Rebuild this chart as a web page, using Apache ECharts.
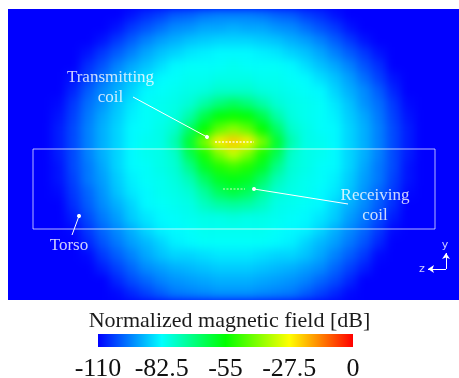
<!DOCTYPE html>
<html><head><meta charset="utf-8">
<script src="https://cdn.jsdelivr.net/npm/echarts@6/dist/echarts.min.js"></script>
<style>
html,body{margin:0;padding:0;background:#fff;width:459px;height:378px;overflow:hidden;}
#wrap{position:absolute;left:8px;top:9px;width:451px;height:291px;overflow:hidden;background:#0000ff;}
#heat{position:absolute;left:0;top:0;width:451px;height:291px;filter:blur(5px);}
#over{position:absolute;left:0;top:0;width:459px;height:378px;}
</style></head><body>
<div id="wrap"><div id="heat"></div></div>
<div id="over"></div>
<script>
// Normalized magnetic field [dB], 23 rows (top to bottom) x 31 columns (left to right)
const fieldRows = [
[-110,-110,-110,-110,-110,-110,-110,-110,-108,-105,-103,-100,-99,-97,-96,-96,-96,-97,-99,-100,-103,-105,-108,-110,-110,-110,-110,-110,-110,-110,-110],
[-110,-110,-110,-110,-110,-110,-110,-108,-104,-101,-98,-95,-94,-92,-92,-91,-92,-92,-94,-95,-98,-101,-104,-108,-110,-110,-110,-110,-110,-110,-110],
[-110,-110,-110,-110,-110,-110,-108,-104,-100,-96,-93,-91,-89,-88,-87,-87,-87,-88,-89,-91,-93,-96,-100,-104,-108,-110,-110,-110,-110,-110,-110],
[-110,-110,-110,-110,-110,-108,-104,-100,-96,-92,-89,-87,-85,-84,-83,-83,-83,-84,-85,-87,-89,-92,-96,-100,-104,-108,-110,-110,-110,-110,-110],
[-110,-110,-110,-110,-110,-105,-101,-96,-92,-89,-86,-83,-82,-82,-82,-81,-82,-82,-82,-83,-86,-89,-92,-96,-101,-105,-110,-110,-110,-110,-110],
[-110,-110,-110,-110,-108,-103,-98,-93,-89,-86,-83,-82,-81,-81,-80,-80,-80,-81,-81,-82,-83,-86,-89,-93,-98,-103,-108,-110,-110,-110,-110],
[-110,-110,-110,-110,-106,-100,-95,-91,-87,-83,-82,-81,-80,-79,-77,-77,-77,-79,-80,-81,-82,-83,-87,-91,-95,-100,-106,-110,-110,-110,-110],
[-110,-110,-110,-109,-104,-98,-94,-89,-85,-82,-81,-80,-78,-73,-68,-65,-68,-73,-78,-80,-81,-82,-85,-89,-94,-98,-104,-109,-110,-110,-110],
[-110,-110,-110,-108,-103,-97,-92,-88,-84,-82,-81,-79,-73,-63,-56,-54,-56,-63,-73,-79,-81,-82,-84,-88,-92,-97,-103,-108,-110,-110,-110],
[-110,-110,-110,-107,-102,-96,-91,-87,-83,-82,-80,-77,-66,-55,-45,-40,-45,-55,-66,-77,-80,-82,-83,-87,-91,-96,-102,-107,-110,-110,-110],
[-110,-110,-110,-107,-102,-96,-91,-87,-83,-81,-80,-74,-60,-42,-26,-22,-26,-42,-60,-74,-80,-81,-83,-87,-91,-96,-102,-107,-110,-110,-110],
[-110,-110,-110,-107,-102,-96,-91,-87,-83,-81,-80,-77,-64,-53,-42,-34,-42,-53,-64,-77,-80,-81,-83,-87,-91,-96,-102,-107,-110,-110,-110],
[-110,-110,-110,-108,-102,-97,-92,-87,-83,-82,-80,-78,-70,-59,-52,-49,-52,-59,-70,-78,-80,-82,-83,-87,-92,-97,-102,-108,-110,-110,-110],
[-110,-110,-110,-108,-103,-97,-93,-88,-84,-82,-81,-79,-75,-66,-59,-57,-59,-66,-75,-79,-81,-82,-84,-88,-93,-97,-103,-108,-110,-110,-110],
[-110,-110,-110,-109,-104,-99,-94,-89,-85,-83,-81,-80,-78,-72,-65,-62,-65,-72,-78,-80,-81,-83,-85,-89,-94,-99,-104,-109,-110,-110,-110],
[-110,-110,-110,-110,-105,-100,-95,-91,-87,-83,-82,-81,-80,-76,-73,-72,-73,-76,-80,-81,-82,-83,-87,-91,-95,-100,-105,-110,-110,-110,-110],
[-110,-110,-110,-110,-107,-102,-97,-93,-88,-85,-83,-82,-81,-80,-80,-79,-80,-80,-81,-82,-83,-85,-88,-93,-97,-102,-107,-110,-110,-110,-110],
[-110,-110,-110,-110,-109,-104,-99,-95,-91,-87,-84,-83,-82,-81,-81,-81,-81,-81,-82,-83,-84,-87,-91,-95,-99,-104,-109,-110,-110,-110,-110],
[-110,-110,-110,-110,-110,-106,-101,-97,-93,-90,-87,-84,-83,-82,-82,-82,-82,-82,-83,-84,-87,-90,-93,-97,-101,-106,-110,-110,-110,-110,-110],
[-110,-110,-110,-110,-110,-109,-104,-100,-96,-92,-89,-87,-87,-86,-85,-85,-85,-86,-87,-87,-89,-92,-96,-100,-104,-109,-110,-110,-110,-110,-110],
[-110,-110,-110,-110,-110,-110,-107,-103,-99,-95,-93,-91,-90,-89,-88,-88,-88,-89,-90,-91,-93,-95,-99,-103,-107,-110,-110,-110,-110,-110,-110],
[-110,-110,-110,-110,-110,-110,-110,-106,-102,-99,-96,-94,-93,-92,-91,-91,-91,-92,-93,-94,-96,-99,-102,-106,-110,-110,-110,-110,-110,-110,-110],
[-110,-110,-110,-110,-110,-110,-110,-109,-106,-103,-100,-97,-96,-95,-94,-94,-94,-95,-96,-97,-100,-103,-106,-109,-110,-110,-110,-110,-110,-110,-110]
];
const colorStops = ['#0000ff', '#00ffff', '#00ff00', '#ffff00', '#ff0000'];
const colorTicks = [-110, -82.5, -55, -27.5, 0];
const fieldMin = -110, fieldMax = 0;
const titleText = 'Normalized magnetic field [dB]';

// annotation geometry in plot units (origin at the transmitting coil, y up)
const plotExtentZ = [-226, 225];
const plotExtentY = [-158, 133];
const torsoOutline = [[-201, -7], [201, -7], [201, -87], [-201, -87], [-201, -7]];
const txCoil = [[-19, 0], [20, 0]];
const rxCoil = [[-11, -47], [11, -47]];
const pointers = [
  [[-101, 45], [-27, 5]],
  [[114, -62], [20, -47]],
  [[-162, -93], [-155, -74]]
];
const axisArrows = [
  [[212, -127], [212, -111]],
  [[212, -127], [194, -127]]
];
const annoLabels = [
  { text: 'Transmitting\ncoil', pos: [-123.5, 54.6] },
  { text: 'Receiving\ncoil', pos: [141, -63.7] },
  { text: 'Torso', pos: [-165, -104] }
];
const axisLetters = [
  { text: 'y', pos: [211, -103] },
  { text: 'z', pos: [188, -127] }
];

const nCols = fieldRows[0].length, nRows = fieldRows.length;
const heatData = [];
fieldRows.forEach((row, r) => row.forEach((v, c) => heatData.push([c, r, v])));
const colCats = Array.from({ length: nCols }, (_, i) => String(i));
const rowCats = Array.from({ length: nRows }, (_, i) => String(i));

const heat = echarts.init(document.getElementById('heat'), null, { renderer: 'canvas' });
heat.setOption({
  animation: false,
  grid: { left: 0, right: 0, top: 0, bottom: 0, outerBoundsMode: 'none', containLabel: false },
  xAxis: { type: 'category', data: colCats, show: false },
  yAxis: { type: 'category', data: rowCats, show: false, inverse: true },
  visualMap: { show: false, type: 'continuous', min: fieldMin, max: fieldMax, inRange: { color: colorStops } },
  series: [{ type: 'heatmap', data: heatData, itemStyle: { borderWidth: 0 }, emphasis: { disabled: true }, silent: true }]
});

const over = echarts.init(document.getElementById('over'), null, { renderer: 'canvas' });
const serif = 'Liberation Serif';
over.setOption({
  animation: false,
  title: {
    text: titleText, left: 'center', top: 310, padding: 0,
    textStyle: { fontFamily: serif, fontSize: 22, fontWeight: 'normal', color: '#1a1a1a' }
  },
  grid: [
    { left: 8, top: 9, width: 451, height: 291, show: false, outerBoundsMode: 'none', containLabel: false },
    { left: 98, top: 334, width: 255, height: 13, show: true, borderWidth: 0, outerBoundsMode: 'none', containLabel: false,
      backgroundColor: new echarts.graphic.LinearGradient(0, 0, 1, 0,
        colorStops.map((c, i) => ({ offset: i / (colorStops.length - 1), color: c }))) }
  ],
  xAxis: [
    { gridIndex: 0, type: 'value', min: plotExtentZ[0], max: plotExtentZ[1], show: false },
    { gridIndex: 1, type: 'value', min: fieldMin, max: fieldMax, interval: 27.5,
      axisLine: { show: false }, axisTick: { show: false }, splitLine: { show: false },
      axisLabel: { customValues: colorTicks, margin: 9, fontFamily: serif, fontSize: 26, color: '#111',
        formatter: v => String(v) } }
  ],
  yAxis: [
    { gridIndex: 0, type: 'value', min: plotExtentY[0], max: plotExtentY[1], show: false },
    { gridIndex: 1, type: 'value', show: false }
  ],
  series: [
    { type: 'line', xAxisIndex: 0, yAxisIndex: 0, data: torsoOutline, showSymbol: false, symbol: 'none', silent: true,
      lineStyle: { color: 'rgba(255,255,255,0.7)', width: 1 } },
    { type: 'line', xAxisIndex: 0, yAxisIndex: 0, data: txCoil, symbol: 'none', silent: true,
      lineStyle: { color: 'rgba(255,255,220,0.95)', width: 1.5, type: [2, 1.5] } },
    { type: 'line', xAxisIndex: 0, yAxisIndex: 0, data: rxCoil, symbol: 'none', silent: true,
      lineStyle: { color: 'rgba(170,255,150,0.85)', width: 1.5, type: [2, 1.5] } },
    { type: 'lines', coordinateSystem: 'cartesian2d', xAxisIndex: 0, yAxisIndex: 0, silent: true,
      symbol: ['none', 'circle'], symbolSize: 4,
      lineStyle: { color: '#ffffff', width: 1, opacity: 1, curveness: 0 },
      data: pointers.map(s => ({ coords: s })) },
    { type: 'lines', coordinateSystem: 'cartesian2d', xAxisIndex: 0, yAxisIndex: 0, silent: true,
      symbol: ['none', 'arrow'], symbolSize: 6,
      lineStyle: { color: '#ffffff', width: 1, opacity: 1, curveness: 0 },
      data: axisArrows.map(s => ({ coords: s })) },
    { type: 'scatter', xAxisIndex: 0, yAxisIndex: 0, symbolSize: 0, silent: true,
      label: { show: true, position: 'inside', formatter: '{b}', color: '#ffffff', fontFamily: serif,
        fontSize: 17, lineHeight: 20, align: 'center', verticalAlign: 'middle' },
      data: annoLabels.map(a => ({ name: a.text, value: a.pos })) },
    { type: 'scatter', xAxisIndex: 0, yAxisIndex: 0, symbolSize: 0, silent: true,
      label: { show: true, position: 'inside', formatter: '{b}', color: '#ffffff', fontFamily: 'DejaVu Sans',
        fontSize: 11, align: 'center', verticalAlign: 'middle' },
      data: axisLetters.map(a => ({ name: a.text, value: a.pos })) }
  ]
});
</script></body></html>
